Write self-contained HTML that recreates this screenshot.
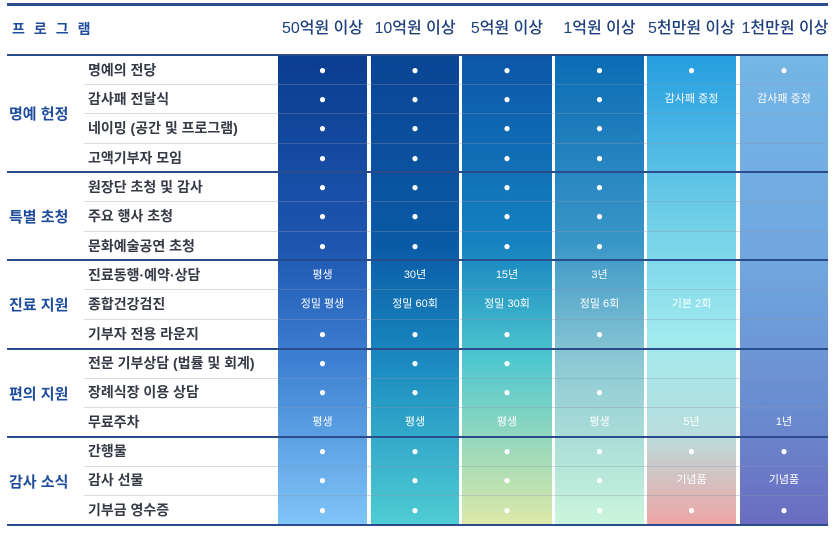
<!DOCTYPE html>
<html><head><meta charset="utf-8"><style>
body{margin:0;width:835px;height:537px;background:#fff;position:relative;overflow:hidden;font-family:"Liberation Sans","Noto Sans CJK KR","NanumGothic",sans-serif;}
.a{position:absolute}
.col{position:absolute;top:55px;height:471px}
.hd{position:absolute;top:16px;height:26px;line-height:26px;font-size:16px;color:#1d3f7c;text-align:center;font-weight:500}
.sec{position:absolute;left:9px;font-size:15px;font-weight:bold;color:#1f4d9c}
.it{position:absolute;left:88px;font-size:14px;font-weight:bold;color:#353a44;height:29px;line-height:29px}
.c{position:absolute;height:29px;line-height:29px;text-align:center;color:#fff;font-size:11px}
.d{font-size:12px}
.rl{position:absolute;left:84px;width:744px;height:1px;background:rgba(140,150,175,0.35)}
.sl{position:absolute;left:7px;width:821px;height:2px;background:#2b4c8c}
</style></head><body>
<div class="a" style="left:7px;top:3px;width:821px;height:3px;background:#2b4c8c"></div>
<div class="a" style="left:12px;top:16px;height:26px;line-height:26px;font-size:14px;font-weight:bold;color:#1f4d9c;letter-spacing:9px">프로그램</div>
<div class="hd" style="left:278px;width:89px">50억원 이상</div>
<div class="hd" style="left:371px;width:88px">10억원 이상</div>
<div class="hd" style="left:462px;width:90px">5억원 이상</div>
<div class="hd" style="left:555px;width:89px">1억원 이상</div>
<div class="hd" style="left:647px;width:89px">5천만원 이상</div>
<div class="hd" style="left:740px;width:90px">1천만원 이상</div>

<div class="col" style="left:278px;width:89px;background:linear-gradient(#0a3d8f,#1d55b0 40%,#3d80d2 65%,#80c6f8)"></div>
<div class="col" style="left:371px;width:88px;background:linear-gradient(#0a4594,#0a5aa6 40%,#1a8ac0 65%,#50cdd4)"></div>
<div class="col" style="left:462px;width:90px;background:linear-gradient(#0c56a8,#1482c0 40%,#50c8d0 65%,#dfe9a8)"></div>
<div class="col" style="left:555px;width:89px;background:linear-gradient(#0b6cb4,#3a96c8 40%,#8cc8d4 65%,#ccf6dc)"></div>
<div class="col" style="left:647px;width:89px;background:linear-gradient(#259ee0,#70cfe8 35%,#a0eaee 60%,#b8dede 80%,#f0a4a4)"></div>
<div class="col" style="left:740px;width:88px;background:linear-gradient(#74b6e6,#70a6de 45%,#6a8cd0 75%,#6a6cc0)"></div>

<div class="a" style="left:7px;top:54px;width:821px;height:2px;background:#2b4c8c"></div>
<div class="rl" style="top:84px"></div><div class="rl" style="top:113px"></div><div class="rl" style="top:143px"></div>
<div class="sl" style="top:171px"></div>
<div class="rl" style="top:201px"></div><div class="rl" style="top:231px"></div>
<div class="sl" style="top:259px"></div>
<div class="rl" style="top:289px"></div><div class="rl" style="top:319px"></div>
<div class="sl" style="top:348px"></div>
<div class="rl" style="top:378px"></div><div class="rl" style="top:407px"></div>
<div class="sl" style="top:436px"></div>
<div class="rl" style="top:466px"></div><div class="rl" style="top:495px"></div>
<div class="sl" style="top:524px"></div>

<div class="sec" style="top:103px">명예 헌정</div>
<div class="sec" style="top:206px">특별 초청</div>
<div class="sec" style="top:294px">진료 지원</div>
<div class="sec" style="top:383px">편의 지원</div>
<div class="sec" style="top:471px">감사 소식</div>

<div class="it" style="top:56px">명예의 전당</div>
<div class="it" style="top:85px">감사패 전달식</div>
<div class="it" style="top:114px">네이밍 (공간 및 프로그램)</div>
<div class="it" style="top:144px">고액기부자 모임</div>
<div class="it" style="top:173px">원장단 초청 및 감사</div>
<div class="it" style="top:202px">주요 행사 초청</div>
<div class="it" style="top:232px">문화예술공연 초청</div>
<div class="it" style="top:261px">진료동행·예약·상담</div>
<div class="it" style="top:290px">종합건강검진</div>
<div class="it" style="top:320px">기부자 전용 라운지</div>
<div class="it" style="top:349px">전문 기부상담 (법률 및 회계)</div>
<div class="it" style="top:378px">장례식장 이용 상담</div>
<div class="it" style="top:408px">무료주차</div>
<div class="it" style="top:437px">간행물</div>
<div class="it" style="top:466px">감사 선물</div>
<div class="it" style="top:496px">기부금 영수증</div>

<div class="c d" style="top:56px;left:278px;width:89px">●</div><div class="c d" style="top:56px;left:371px;width:88px">●</div><div class="c d" style="top:56px;left:462px;width:90px">●</div><div class="c d" style="top:56px;left:555px;width:89px">●</div><div class="c d" style="top:56px;left:647px;width:89px">●</div><div class="c d" style="top:56px;left:740px;width:88px">●</div>
<div class="c d" style="top:85px;left:278px;width:89px">●</div><div class="c d" style="top:85px;left:371px;width:88px">●</div><div class="c d" style="top:85px;left:462px;width:90px">●</div><div class="c d" style="top:85px;left:555px;width:89px">●</div><div class="c" style="top:85px;left:647px;width:89px">감사패 증정</div><div class="c" style="top:85px;left:740px;width:88px">감사패 증정</div>
<div class="c d" style="top:114px;left:278px;width:89px">●</div><div class="c d" style="top:114px;left:371px;width:88px">●</div><div class="c d" style="top:114px;left:462px;width:90px">●</div><div class="c d" style="top:114px;left:555px;width:89px">●</div>
<div class="c d" style="top:144px;left:278px;width:89px">●</div><div class="c d" style="top:144px;left:371px;width:88px">●</div><div class="c d" style="top:144px;left:462px;width:90px">●</div><div class="c d" style="top:144px;left:555px;width:89px">●</div>
<div class="c d" style="top:173px;left:278px;width:89px">●</div><div class="c d" style="top:173px;left:371px;width:88px">●</div><div class="c d" style="top:173px;left:462px;width:90px">●</div><div class="c d" style="top:173px;left:555px;width:89px">●</div>
<div class="c d" style="top:202px;left:278px;width:89px">●</div><div class="c d" style="top:202px;left:371px;width:88px">●</div><div class="c d" style="top:202px;left:462px;width:90px">●</div><div class="c d" style="top:202px;left:555px;width:89px">●</div>
<div class="c d" style="top:232px;left:278px;width:89px">●</div><div class="c d" style="top:232px;left:371px;width:88px">●</div><div class="c d" style="top:232px;left:462px;width:90px">●</div><div class="c d" style="top:232px;left:555px;width:89px">●</div>
<div class="c" style="top:261px;left:278px;width:89px">평생</div><div class="c" style="top:261px;left:371px;width:88px">30년</div><div class="c" style="top:261px;left:462px;width:90px">15년</div><div class="c" style="top:261px;left:555px;width:89px">3년</div>
<div class="c" style="top:290px;left:278px;width:89px">정밀 평생</div><div class="c" style="top:290px;left:371px;width:88px">정밀 60회</div><div class="c" style="top:290px;left:462px;width:90px">정밀 30회</div><div class="c" style="top:290px;left:555px;width:89px">정밀 6회</div><div class="c" style="top:290px;left:647px;width:89px">기본 2회</div>
<div class="c d" style="top:320px;left:278px;width:89px">●</div><div class="c d" style="top:320px;left:371px;width:88px">●</div><div class="c d" style="top:320px;left:462px;width:90px">●</div><div class="c d" style="top:320px;left:555px;width:89px">●</div>
<div class="c d" style="top:349px;left:278px;width:89px">●</div><div class="c d" style="top:349px;left:371px;width:88px">●</div><div class="c d" style="top:349px;left:462px;width:90px">●</div>
<div class="c d" style="top:378px;left:278px;width:89px">●</div><div class="c d" style="top:378px;left:371px;width:88px">●</div><div class="c d" style="top:378px;left:462px;width:90px">●</div><div class="c d" style="top:378px;left:555px;width:89px">●</div>
<div class="c" style="top:408px;left:278px;width:89px">평생</div><div class="c" style="top:408px;left:371px;width:88px">평생</div><div class="c" style="top:408px;left:462px;width:90px">평생</div><div class="c" style="top:408px;left:555px;width:89px">평생</div><div class="c" style="top:408px;left:647px;width:89px">5년</div><div class="c" style="top:408px;left:740px;width:88px">1년</div>
<div class="c d" style="top:437px;left:278px;width:89px">●</div><div class="c d" style="top:437px;left:371px;width:88px">●</div><div class="c d" style="top:437px;left:462px;width:90px">●</div><div class="c d" style="top:437px;left:555px;width:89px">●</div><div class="c d" style="top:437px;left:647px;width:89px">●</div><div class="c d" style="top:437px;left:740px;width:88px">●</div>
<div class="c d" style="top:466px;left:278px;width:89px">●</div><div class="c d" style="top:466px;left:371px;width:88px">●</div><div class="c d" style="top:466px;left:462px;width:90px">●</div><div class="c d" style="top:466px;left:555px;width:89px">●</div><div class="c" style="top:466px;left:647px;width:89px">기념품</div><div class="c" style="top:466px;left:740px;width:88px">기념품</div>
<div class="c d" style="top:496px;left:278px;width:89px">●</div><div class="c d" style="top:496px;left:371px;width:88px">●</div><div class="c d" style="top:496px;left:462px;width:90px">●</div><div class="c d" style="top:496px;left:555px;width:89px">●</div><div class="c d" style="top:496px;left:647px;width:89px">●</div><div class="c d" style="top:496px;left:740px;width:88px">●</div>
</body></html>
